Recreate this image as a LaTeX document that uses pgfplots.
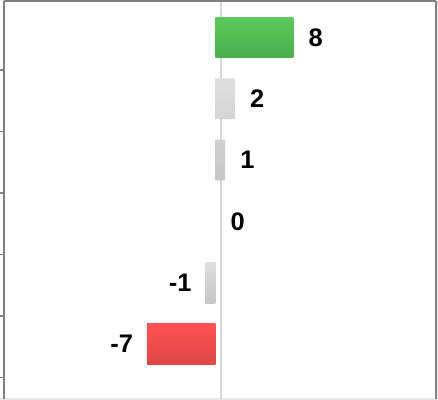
\documentclass[border=0pt]{standalone}
\usepackage{pgfplots}
\pgfplotsset{compat=1.18}
\usepackage{fontspec}
\setmainfont{Liberation Sans}
\definecolor{frame}{HTML}{7F7F7F}
\definecolor{zeroline}{HTML}{D6D6D6}
\definecolor{gtop}{HTML}{5CC95B}
\definecolor{gbot}{HTML}{4BAE4C}
\definecolor{ntop}{HTML}{DEDEDE}
\definecolor{nbot}{HTML}{C6C6C6}
\definecolor{rtop}{HTML}{FF5252}
\definecolor{rbot}{HTML}{DE4747}
\begin{document}
\begin{tikzpicture}
\path[use as bounding box] (0,0) rectangle (438bp,400bp);
\fill[black!7] (437bp,0) rectangle (438bp,400bp);
\draw[color=black!9, line width=1.5bp] (0,1bp) -- (438bp,1bp);
\begin{axis}[
  at={(4bp,1bp)}, anchor=south west,
  scale only axis, width=432bp, height=398bp,
  xmin=-21.69, xmax=22.62, ymin=-0.897, ymax=5.595,
  axis line style={draw=none},
  xtick=\empty,
  ytick={4.47,3.47,2.46,1.46,0.46,-0.55},
  yticklabels={},
  ytick pos=left, tick align=outside, major tick length=4bp,
  tick style={color=frame, line width=1.5bp},
  extra x ticks={0.56}, extra x tick labels={},
  extra x tick style={grid=major, major grid style={color=zeroline, line width=2bp}, major tick length=0pt},
  point meta=explicit symbolic,
  nodes near coords,
  every node near coord/.append style={font=\fontsize{25.5}{25.5}\selectfont\bfseries, inner sep=0pt, text=black},
  clip=false,
]
\addplot[xbar, bar shift=0pt, bar width=40.7bp, draw=none, top color=gtop, bottom color=gbot,
  every node near coord/.append style={anchor=west, xshift=15bp}]
  coordinates {(8,5) [8]};
\addplot[xbar, bar shift=0pt, bar width=40.7bp, draw=none, top color=ntop, bottom color=nbot,
  every node near coord/.append style={anchor=west, xshift=15bp}]
  coordinates {(2,4) [2] (1,3) [1]};
\addplot[xbar, bar shift=0pt, bar width=40.7bp, draw=none, fill=none,
  every node near coord/.append style={anchor=west, xshift=15bp}]
  coordinates {(0,2) [0]};
\addplot[xbar, bar shift=0pt, bar width=40.7bp, draw=none, top color=ntop, bottom color=nbot,
  every node near coord/.append style={anchor=east, xshift=-14bp}]
  coordinates {(-1,1) [-1]};
\addplot[xbar, bar shift=0pt, bar width=40.7bp, draw=none, top color=rtop, bottom color=rbot,
  every node near coord/.append style={anchor=east, xshift=-14bp}]
  coordinates {(-7,0) [-7]};
\draw[color=frame, line width=2bp] (rel axis cs:0,0) -- (rel axis cs:0,1);
\draw[color=frame, line width=2bp] (rel axis cs:0,1) -- (rel axis cs:1,1);
\draw[color=frame, line width=2.2bp] (rel axis cs:1,1) -- (rel axis cs:1,0);
\end{axis}
\end{tikzpicture}
\end{document}
